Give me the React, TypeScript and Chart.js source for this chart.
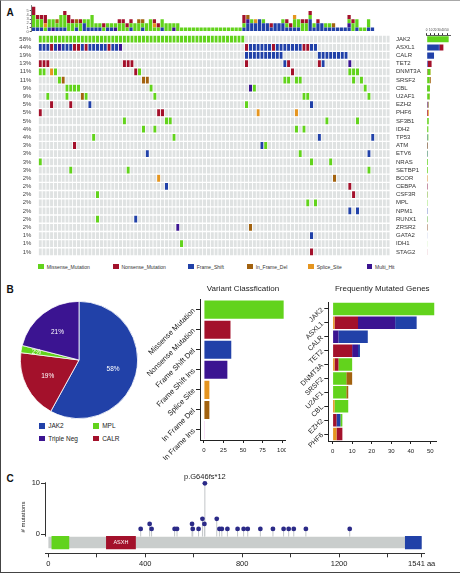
import React, { useEffect, useRef } from 'react';
import { Chart, registerables } from 'chart.js';

Chart.register(...registerables);

const FONT = '"Liberation Sans", Arial, Helvetica, sans-serif';
Chart.defaults.font.family = FONT;
Chart.defaults.color = '#333';

// ---------------- colours (style) ----------------
const C_MISSENSE = '#62D31C';
const C_NONSENSE = '#A3112B';
const C_FRAMESHIFT = '#2141A8';
const C_INFRAMEDEL = '#A2620F';
const C_SPLICE = '#E5951F';
const C_MULTIHIT = '#3B1491';
const C_INFRAMEINS = '#E68DE0';
const C_EMPTY = '#DFE2E2';
const typeColor: Record<string, string> = {
  M: C_MISSENSE, N: C_NONSENSE, F: C_FRAMESHIFT, D: C_INFRAMEDEL, S: C_SPLICE, H: C_MULTIHIT,
};

// ---------------- Panel A data ----------------
const oncoGenes = ['JAK2', 'ASXL1', 'CALR', 'TET2', 'DNMT3A', 'SRSF2', 'CBL', 'U2AF1', 'EZH2', 'PHF6', 'SF3B1', 'IDH2', 'TP53', 'ATM', 'ETV6', 'NRAS', 'SETBP1', 'BCOR', 'CEBPA', 'CSF3R', 'MPL', 'NPM1', 'RUNX1', 'ZRSR2', 'GATA2', 'IDH1', 'STAG2'];
const oncoPct = ['58%', '44%', '19%', '13%', '11%', '11%', '9%', '9%', '5%', '5%', '5%', '4%', '4%', '3%', '3%', '3%', '3%', '2%', '2%', '2%', '2%', '2%', '2%', '2%', '1%', '1%', '1%'];
const sampleCount = 92;
// per gene: "sample:type" or "from-to:type"  (M missense, N nonsense, F frame shift, D in-frame del, S splice site, H multi hit)
const oncoHits = [
  '0-53:M',
  '0-2:F 3:N 4:F 5:H 6-8:F 9-10:N 11:F 12:N 13-17:F 18:N 19-20:F 21:H 54:N 55-60:F 61:N 62-68:F 69-70:N 71-72:F',
  '54-63:F 73-80:F',
  '0-2:N 22-24:N 54:N 64:F 65:N 73:N 74:F 81:H',
  '0-1:M 3:S 4:M 25:N 26:M 66:N 81-83:M',
  '5:M 6:D 27-28:D 64-65:M 67-68:M 82:M 84:M',
  '7-10:M 29:M 55:H 56:M 85:M',
  '2:M 7:M 11:D 12:M 30:M 69-70:M 86:M',
  '3:N 8:N 13:F 54:M 71:F',
  '0:N 31-32:N 57:S 67:S',
  '22:M 33-34:M 75:M 83:M',
  '27:M 30:M 67:M 69:M',
  '14:M 35:M 73:F 87:F',
  '9:N 58:F 59:M',
  '28:F 68:M 86:F',
  '0:M 71:M 76:M',
  '8:M 23:M 86:M',
  '31:S 77:D',
  '33:F 81:N',
  '15:M 82:N',
  '70:M 72:M',
  '81:F 83:F',
  '15:M 25:F',
  '36:H 55:D',
  '71:F',
  '37:M',
  '71:N',
];
const legendTypes = ['M', 'N', 'F', 'D', 'S', 'H'];
const legendNames = ['Missense_Mutation', 'Nonsense_Mutation', 'Frame_Shift', 'In_Frame_Del', 'Splice_Site', 'Multi_Hit'];
const topBarTicks = [0, 1, 2, 3, 4, 5];
const sideBarTicks = [0, 10, 20, 30, 40, 50];

// ---------------- Panel B data ----------------
const pieLabels = ['JAK2', 'CALR', 'MPL', 'Triple Neg'];
const pieValues = [58, 19, 2, 21];

const vcLabels = ['Missense Mutation', 'Nonsense Mutation', 'Frame Shift Del', 'Frame Shift Ins', 'Splice Site', 'In Frame Del', 'In Frame Ins'];
const vcCounts = [102, 34, 35, 30, 7, 7, 1];
const vcTicks = [0, 25, 50, 75, 100];

const fmGenes = ['JAK2', 'ASXL1', 'CALR', 'TET2', 'DNMT3A', 'SRSF2', 'U2AF1', 'CBL', 'EZH2', 'PHF6'];
const fmSplice = [0, 1, 0, 0, 1, 0, 0, 1, 0, 2];
const fmNonsense = [0, 12, 0, 10, 2, 0, 0, 0, 2, 3];
const fmFsIns = [0, 19, 3, 3, 0, 0, 0, 0, 0, 0];
const fmFsDel = [0, 11, 15, 1, 0, 0, 0, 0, 2, 0];
const fmMissense = [52, 0, 0, 0, 7, 7, 7, 7, 1, 0];
const fmInFrameDel = [0, 0, 0, 0, 0, 3, 1, 0, 0, 0];
const fmTicks = [0, 10, 20, 30, 40, 50];

// ---------------- Panel C data ----------------
const lpPos = [381, 418, 426, 521, 531, 593, 596, 620, 636, 644, 646, 695, 706, 716, 739, 781, 806, 823, 875, 927, 971, 992, 1013, 1063, 1244];
const lpCount = [1, 2, 1, 1, 1, 2, 1, 1, 3, 2, 10, 3, 1, 1, 1, 1, 1, 1, 1, 1, 1, 1, 1, 1, 1];
const hotspotLabel = 'p.G646fs*12';
const proteinLength = 1541;
const domainNames = ['', 'ASXH', ''];
const domainStart = [13, 238, 1472];
const domainEnd = [86, 361, 1541];
const lpXTicks = [0, 200, 400, 600, 800, 1000, 1200, 1400, 1541];
const lpXLabelled = [0, 400, 800, 1200];
const lpYTicks = [0, 10];

// ---------------- helpers ----------------
function parseHits(s: string): (string | null)[] {
  const row: (string | null)[] = new Array(sampleCount).fill(null);
  s.split(' ').forEach((tok) => {
    const [range, t] = tok.split(':');
    const parts = range.split('-').map(Number);
    const a = parts[0];
    const b = parts.length > 1 ? parts[1] : a;
    for (let i = a; i <= b; i++) row[i] = t;
  });
  return row;
}
const matrix = oncoHits.map(parseHits);
const sampleIds = Array.from({ length: sampleCount }, (_, i) => 'S' + (i + 1));
const colCounts = (t: string) =>
  sampleIds.map((_, c) => matrix.reduce((s, row) => s + (row[c] === t ? 1 : 0), 0));
const geneCounts = (t: string) => matrix.map((row) => row.filter((v) => v === t).length);

const noPad = (w?: number, h?: number) => (s: any) => {
  if (w !== undefined) s.width = w;
  if (h !== undefined) s.height = h;
  s.paddingTop = 0; s.paddingBottom = 0; s.paddingLeft = 0; s.paddingRight = 0;
};
const setTicks = (vals: number[]) => (s: any) => { s.ticks = vals.map((v) => ({ value: v })); };

const baseOpts = {
  responsive: false,
  animation: false as const,
  devicePixelRatio: 1,
  events: [] as any[],
};

// ---------------- chart factories ----------------
function makeOnco(canvas: HTMLCanvasElement) {
  const datasets = matrix.map((row, gi) => ({
    label: oncoGenes[gi],
    data: row.map(() => 1),
    backgroundColor: row.map((t) => (t ? typeColor[t] : C_EMPTY)),
    borderColor: '#ffffff',
    borderWidth: { top: 0.7, bottom: 0.7, left: 0, right: 0 },
    borderSkipped: false,
    barPercentage: 0.86,
    categoryPercentage: 1,
  })).reverse();
  return new Chart(canvas, {
    type: 'bar',
    data: { labels: sampleIds, datasets: datasets as any },
    options: {
      ...baseOpts,
      layout: { padding: 0 },
      plugins: { legend: { display: false }, tooltip: { enabled: false } },
      scales: {
        x: { display: false, stacked: true },
        y: { display: false, stacked: true, min: 0, max: oncoGenes.length },
        yL: {
          type: 'category', labels: oncoPct, position: 'left', offset: true,
          grid: { display: false, drawTicks: false, tickLength: 0 }, border: { display: false },
          ticks: { autoSkip: false, font: { size: 6 }, color: '#444', padding: 7 },
          afterFit: noPad(28.3),
        },
        yR: {
          type: 'category', labels: oncoGenes, position: 'right', offset: true,
          grid: { display: false, drawTicks: false, tickLength: 0 }, border: { display: false },
          ticks: { autoSkip: false, font: { size: 6 }, color: '#333', padding: 6 },
          afterFit: noPad(34),
        },
      } as any,
    },
  });
}

function makeTopBars(canvas: HTMLCanvasElement) {
  const order = ['F', 'H', 'M', 'D', 'S', 'N'];
  return new Chart(canvas, {
    type: 'bar',
    data: {
      labels: sampleIds,
      datasets: order.map((t) => ({
        data: colCounts(t), backgroundColor: typeColor[t], barPercentage: 0.84, categoryPercentage: 1,
      })),
    },
    options: {
      ...baseOpts,
      layout: { padding: { top: 2.5, bottom: 2.4, left: 0, right: 0 } },
      plugins: { legend: { display: false }, tooltip: { enabled: false } },
      scales: {
        x: { display: false, stacked: true },
        y: {
          stacked: true, min: 0, max: 6.33,
          grid: { display: true, drawOnChartArea: false, tickLength: 2, color: '#555' },
          border: { display: true, color: '#555', width: 0.8 },
          ticks: { autoSkip: false, font: { size: 4 }, color: '#555', padding: 1 },
          afterBuildTicks: setTicks(topBarTicks),
          afterFit: noPad(17.7),
        },
      } as any,
    },
  });
}

function makeSideBars(canvas: HTMLCanvasElement) {
  const order = ['F', 'H', 'N', 'M', 'D', 'S'];
  return new Chart(canvas, {
    type: 'bar',
    data: {
      labels: oncoGenes,
      datasets: order.map((t) => ({
        data: geneCounts(t), backgroundColor: typeColor[t], barPercentage: 0.75, categoryPercentage: 1,
      })),
    },
    options: {
      ...baseOpts,
      indexAxis: 'y',
      layout: { padding: { left: 6.7, right: 5.3, top: 0, bottom: 0 } },
      plugins: { legend: { display: false }, tooltip: { enabled: false } },
      scales: {
        y: { display: false, stacked: true },
        x: {
          stacked: true, position: 'top', min: 0, max: 59,
          grid: { display: true, drawOnChartArea: false, tickLength: 2, color: '#333' },
          border: { display: true, color: '#333', width: 0.8 },
          ticks: { autoSkip: false, maxRotation: 0, font: { size: 3 }, color: '#333', padding: 1 },
          afterBuildTicks: setTicks(sideBarTicks),
          afterFit: noPad(undefined, 15.2),
        },
      } as any,
    },
  });
}

const pieLabelPlugin = {
  id: 'pieLabels',
  afterDatasetsDraw(chart: any) {
    const meta = chart.getDatasetMeta(0);
    const ctx = chart.ctx;
    ctx.save();
    ctx.fillStyle = '#ffffff';
    ctx.font = `6.5px ${FONT}`;
    ctx.textAlign = 'center';
    ctx.textBaseline = 'middle';
    meta.data.forEach((arc: any, i: number) => {
      const p = arc.getProps(['x', 'y', 'startAngle', 'endAngle', 'outerRadius'], true);
      const mid = (p.startAngle + p.endAngle) / 2;
      const v = pieValues[i];
      const r = p.outerRadius * (v < 5 ? 0.74 : 0.6);
      ctx.fillText(v + '%', p.x + Math.cos(mid) * r, p.y + Math.sin(mid) * r);
    });
    ctx.restore();
  },
};

function makePie(canvas: HTMLCanvasElement) {
  return new Chart(canvas, {
    type: 'pie',
    data: {
      labels: pieLabels,
      datasets: [{
        data: pieValues,
        backgroundColor: [C_FRAMESHIFT, C_NONSENSE, C_MISSENSE, C_MULTIHIT],
        borderColor: '#ffffff',
        borderWidth: 0.8,
      }],
    },
    options: {
      ...baseOpts,
      layout: { padding: 0 },
      plugins: { legend: { display: false }, tooltip: { enabled: false } },
    },
    plugins: [pieLabelPlugin],
  });
}

function makeVariant(canvas: HTMLCanvasElement) {
  return new Chart(canvas, {
    type: 'bar',
    data: {
      labels: vcLabels,
      datasets: [{
        data: vcCounts,
        backgroundColor: [C_MISSENSE, C_NONSENSE, C_FRAMESHIFT, C_MULTIHIT, C_SPLICE, C_INFRAMEDEL, C_INFRAMEINS],
        barPercentage: 0.9, categoryPercentage: 1,
      }],
    },
    options: {
      ...baseOpts,
      indexAxis: 'y',
      layout: { padding: 0 },
      plugins: {
        legend: { display: false }, tooltip: { enabled: false },
        title: {
          display: true, text: 'Variant Classfication', fullSize: false, color: '#222',
          font: { size: 8, weight: 'normal' }, padding: { top: 2, bottom: 6 },
        },
      },
      scales: {
        y: {
          type: 'category', offset: true,
          grid: { display: true, drawOnChartArea: false, offset: false, tickLength: 4, color: '#222' },
          border: { display: true, color: '#222', width: 1 },
          ticks: { autoSkip: false, minRotation: 45, maxRotation: 45, font: { size: 7.5 }, color: '#222', padding: 2 },
          afterFit: noPad(60),
        },
        x: {
          min: -5, max: 105,
          grid: { display: true, drawOnChartArea: false, tickLength: 3, color: '#222' },
          border: { display: true, color: '#222', width: 1 },
          ticks: { autoSkip: false, maxRotation: 0, font: { size: 6 }, color: '#222', padding: 4 },
          afterBuildTicks: setTicks(vcTicks),
          afterFit: noPad(undefined, 20),
        },
      } as any,
    },
  });
}

function makeFreq(canvas: HTMLCanvasElement) {
  const sets = [
    [fmSplice, C_SPLICE], [fmNonsense, C_NONSENSE], [fmFsIns, C_MULTIHIT],
    [fmFsDel, C_FRAMESHIFT], [fmMissense, C_MISSENSE], [fmInFrameDel, C_INFRAMEDEL],
  ] as [number[], string][];
  return new Chart(canvas, {
    type: 'bar',
    data: {
      labels: fmGenes,
      datasets: sets.map(([d, c]) => ({ data: d, backgroundColor: c, barPercentage: 0.9, categoryPercentage: 1 })),
    },
    options: {
      ...baseOpts,
      indexAxis: 'y',
      layout: { padding: { right: 3.8, left: 0, top: 0, bottom: 0 } },
      plugins: {
        legend: { display: false }, tooltip: { enabled: false },
        title: {
          display: true, text: 'Frequently Mutated Genes', fullSize: false, color: '#222',
          font: { size: 8, weight: 'normal' }, padding: { top: 2, bottom: 8.4 },
        },
      },
      scales: {
        y: {
          type: 'category', offset: true, stacked: true,
          grid: { display: true, drawOnChartArea: false, offset: false, tickLength: 4, color: '#222' },
          border: { display: true, color: '#222', width: 1 },
          ticks: { autoSkip: false, minRotation: 45, maxRotation: 45, font: { size: 7 }, color: '#222', padding: 2 },
          afterFit: noPad(38.3),
        },
        x: {
          stacked: true, min: -2.2, max: 53,
          grid: { display: true, drawOnChartArea: false, tickLength: 3, color: '#222' },
          border: { display: true, color: '#222', width: 1 },
          ticks: { autoSkip: false, maxRotation: 0, font: { size: 6 }, color: '#222', padding: 4 },
          afterBuildTicks: setTicks(fmTicks),
          afterFit: noPad(undefined, 19),
        },
      } as any,
    },
  });
}

const BACKBONE_Y = -1.68;
const STEM_BASE = -0.5;

const lollipopPlugin = {
  id: 'lolliText',
  afterDatasetsDraw(chart: any) {
    const { ctx, scales, chartArea } = chart;
    const x = scales.x; const y = scales.y;
    ctx.save();
    ctx.strokeStyle = '#333';
    ctx.lineWidth = 1;
    ctx.beginPath();
    ctx.moveTo(chartArea.left + 0.5, y.getPixelForValue(10.2));
    ctx.lineTo(chartArea.left + 0.5, y.getPixelForValue(-0.5));
    ctx.stroke();
    ctx.fillStyle = '#ffffff';
    ctx.font = `5.5px ${FONT}`;
    ctx.textAlign = 'center';
    ctx.textBaseline = 'middle';
    domainNames.forEach((n, i) => {
      if (n) ctx.fillText(n, x.getPixelForValue((domainStart[i] + domainEnd[i]) / 2), y.getPixelForValue(BACKBONE_Y));
    });
    const k = lpCount.indexOf(Math.max(...lpCount));
    ctx.fillStyle = '#222';
    ctx.font = `7.5px ${FONT}`;
    ctx.textBaseline = 'bottom';
    ctx.fillText(hotspotLabel, x.getPixelForValue(lpPos[k]), y.getPixelForValue(lpCount[k]) - 3);
    ctx.restore();
  },
};

function makeLollipop(canvas: HTMLCanvasElement) {
  const stems = lpPos.flatMap((p, i) => [{ x: p, y: STEM_BASE }, { x: p, y: lpCount[i] }, { x: p, y: null }]);
  const domainColors = [C_MISSENSE, C_NONSENSE, C_FRAMESHIFT];
  const datasets: any[] = [
    {
      data: lpPos.map((p, i) => ({ x: p, y: lpCount[i] })),
      pointRadius: 2.4, pointBackgroundColor: '#2B2A88', pointBorderWidth: 0, showLine: false, order: 1,
    },
    {
      data: stems, showLine: true, borderColor: '#C2C6C8', borderWidth: 1, pointRadius: 0, spanGaps: false, order: 2,
    },
    ...domainNames.map((_, i) => ({
      data: [{ x: domainStart[i], y: BACKBONE_Y }, { x: domainEnd[i], y: BACKBONE_Y }],
      showLine: true, borderColor: domainColors[i], borderWidth: 13.3, borderCapStyle: 'butt', pointRadius: 0, order: 3,
    })),
    {
      data: [{ x: 0, y: BACKBONE_Y }, { x: proteinLength, y: BACKBONE_Y }],
      showLine: true, borderColor: '#C9CDCC', borderWidth: 11.6, borderCapStyle: 'butt', pointRadius: 0, order: 4,
    },
  ];
  return new Chart(canvas, {
    type: 'scatter',
    data: { datasets },
    options: {
      ...baseOpts,
      layout: { padding: { top: 14.8, right: 26, left: 0, bottom: 0 } },
      plugins: { legend: { display: false }, tooltip: { enabled: false } },
      scales: {
        x: {
          type: 'linear', min: -14, max: 1550.6,
          grid: { display: true, drawOnChartArea: false, tickLength: 4, color: '#333' },
          border: { display: true, color: '#333', width: 1 },
          ticks: {
            autoSkip: false, maxRotation: 0, font: { size: 7.5 }, color: '#222', padding: 2,
            callback: (v: any) => (v === proteinLength ? proteinLength + ' aa' : lpXLabelled.includes(v) ? String(v) : ''),
          },
          afterBuildTicks: setTicks(lpXTicks),
          afterFit: noPad(undefined, 17.7),
        },
        y: {
          type: 'linear', min: -3.8, max: 10.5,
          grid: { display: true, drawOnChartArea: false, tickLength: 4, color: '#333' },
          border: { display: false },
          ticks: { autoSkip: false, font: { size: 7.5 }, color: '#222', padding: 1 },
          title: { display: true, text: '# mutations', font: { size: 6 }, color: '#222', padding: { top: 5.4, bottom: 0 } },
          afterBuildTicks: setTicks(lpYTicks),
          afterFit: noPad(31),
        },
      } as any,
    },
    plugins: [lollipopPlugin],
  });
}

// ---------------- components ----------------
type Pos = { left: number; top: number; width: number; height: number };

function ChartBox({ pos, make }: { pos: Pos; make: (c: HTMLCanvasElement) => Chart }) {
  const ref = useRef<HTMLCanvasElement>(null);
  useEffect(() => {
    const chart = make(ref.current as HTMLCanvasElement);
    return () => chart.destroy();
  }, []);
  return (
    <canvas
      ref={ref}
      width={pos.width}
      height={pos.height}
      style={{ position: 'absolute', left: pos.left, top: pos.top, width: pos.width, height: pos.height }}
    />
  );
}

const legendAX = [38.3, 113, 188.3, 247.3, 308.3, 366.7];
const pieLegendPos = [
  { i: 0, x: 39.3, y: 426.2 },
  { i: 2, x: 93.3, y: 426.2 },
  { i: 3, x: 39.3, y: 438.6 },
  { i: 1, x: 93.3, y: 438.6 },
];
const pieColors = [C_FRAMESHIFT, C_NONSENSE, C_MISSENSE, C_MULTIHIT];

function Letter({ ch, left, top }: { ch: string; left: number; top: number }) {
  return (
    <div style={{ position: 'absolute', left, top, fontSize: 10, lineHeight: '10px', fontWeight: 700, color: '#111', fontFamily: FONT }}>
      {ch}
    </div>
  );
}

export default function App() {
  return (
    <div style={{ position: 'absolute', left: 0, top: 0, width: 460, height: 573, background: '#fff', overflow: 'hidden', fontFamily: FONT }}>
      <Letter ch="A" left={6.5} top={8} />
      <Letter ch="B" left={6.5} top={285.4} />
      <Letter ch="C" left={6.5} top={473.7} />

      <ChartBox pos={{ left: 14, top: 3, width: 376, height: 31 }} make={makeTopBars} />
      <ChartBox pos={{ left: 10, top: 35, width: 414, height: 221 }} make={makeOnco} />
      <ChartBox pos={{ left: 420, top: 20, width: 36, height: 236 }} make={makeSideBars} />

      {legendTypes.map((t, i) => (
        <div key={t} style={{ position: 'absolute', left: legendAX[i], top: 262.7, height: 8, display: 'flex', alignItems: 'center' }}>
          <span style={{ display: 'inline-block', width: 5.7, height: 4.7, background: typeColor[t] }} />
          <span style={{ marginLeft: 2.7, fontSize: 5, lineHeight: '8px', color: '#333', whiteSpace: 'nowrap' }}>{legendNames[i]}</span>
        </div>
      ))}

      <ChartBox pos={{ left: 20, top: 301, width: 118, height: 118 }} make={makePie} />
      {pieLegendPos.map((p) => (
        <div key={p.i} style={{ position: 'absolute', left: p.x, top: p.y - 4, height: 8, display: 'flex', alignItems: 'center' }}>
          <span style={{ display: 'inline-block', width: 5.7, height: 5.7, background: pieColors[p.i] }} />
          <span style={{ marginLeft: 3.2, fontSize: 6.5, lineHeight: '8px', color: '#222', whiteSpace: 'nowrap' }}>{pieLabels[p.i]}</span>
        </div>
      ))}

      <ChartBox pos={{ left: 140, top: 282, width: 146, height: 178 }} make={makeVariant} />
      <ChartBox pos={{ left: 290, top: 282, width: 150, height: 178 }} make={makeFreq} />

      <ChartBox pos={{ left: 14, top: 466, width: 436, height: 105 }} make={makeLollipop} />

      <div style={{ position: 'absolute', left: 0, top: 0, width: 460, height: 573, boxSizing: 'border-box', borderTop: '1px solid #a8a8a8', borderLeft: '1px solid #444', borderBottom: '1px solid #444', pointerEvents: 'none' }} />
    </div>
  );
}
